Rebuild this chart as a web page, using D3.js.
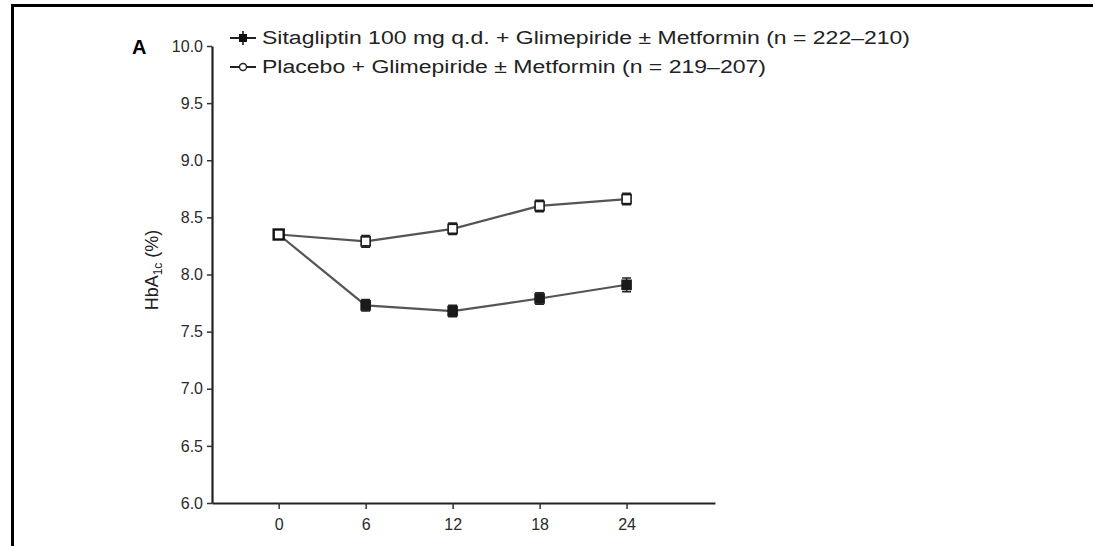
<!DOCTYPE html>
<html>
<head>
<meta charset="utf-8">
<script src="https://cdn.jsdelivr.net/npm/d3@7"></script>
<style>
  body { margin: 0; background: #fff; }
  svg { display: block; }
  .tick text { fill: #2a2a2a; }
</style>
</head>
<body>
<svg id="chart" width="1093" height="546"></svg>
<script>
// weeks and HbA1c means
const weeks = [0, 6, 12, 18, 24];
const sitagliptin = [8.35, 7.73, 7.68, 7.79, 7.91];
const placebo = [8.35, 8.29, 8.4, 8.6, 8.66];
const errSita = [0.03, 0.05, 0.05, 0.05, 0.06];
const errPlacebo = [0.03, 0.05, 0.05, 0.05, 0.05];
const yTicks = [6.0, 6.5, 7.0, 7.5, 8.0, 8.5, 9.0, 9.5, 10.0];
const legendLabels = [
  'Sitagliptin 100 mg q.d. + Glimepiride \u00b1 Metformin (n = 222\u2013210)',
  'Placebo + Glimepiride \u00b1 Metformin (n = 219\u2013207)',
];

const svg = d3.select('#chart');
const font = '"Liberation Sans Narrow", "Liberation Sans", Arial, sans-serif';

// outer frame (runs off the bottom/right edge like the scan)
svg.append('rect')
  .attr('x', 12.5).attr('y', 5.5)
  .attr('width', 1200).attr('height', 700)
  .attr('fill', 'none').attr('stroke', '#000').attr('stroke-width', 3);

const x = d3.scaleLinear().domain([-4.6, 30.1]).range([212, 715]);
const y = d3.scaleLinear().domain([6, 10]).range([503, 46]);

// axes
const yAxis = svg.append('g')
  .attr('transform', 'translate(212,0)')
  .call(d3.axisLeft(y).tickValues(yTicks).tickFormat(d3.format('.1f')).tickSize(5).tickSizeOuter(0));
const xAxis = svg.append('g')
  .attr('transform', 'translate(0,503)')
  .call(d3.axisBottom(x).tickValues(weeks).tickSize(6).tickSizeOuter(0));

[yAxis, xAxis].forEach((g) => {
  g.select('.domain').attr('stroke', '#222').attr('stroke-width', 2.2);
  g.selectAll('.tick line').attr('stroke', '#333').attr('stroke-width', 1.5);
  g.selectAll('.tick text').attr('font-family', font).attr('font-size', 16);
});
yAxis.selectAll('.tick text').attr('x', -9);
xAxis.selectAll('.tick text').attr('y', 16);

// panel letter and y label
svg.append('text')
  .attr('x', 132).attr('y', 54)
  .attr('font-family', '"Liberation Sans", Arial, sans-serif')
  .attr('font-weight', 'bold').attr('font-size', 20)
  .text('A');

const yl = svg.append('text')
  .attr('transform', 'translate(158,270) rotate(-90)')
  .attr('text-anchor', 'middle')
  .attr('font-family', font).attr('font-size', 18).attr('fill', '#222');
yl.append('tspan').text('HbA');
yl.append('tspan').attr('font-size', 12).attr('dy', 4).text('1c');
yl.append('tspan').attr('dy', -4).text(' (%)');

// lines
const line = d3.line().x((d) => x(d[0])).y((d) => y(d[1]));
const series = [
  { vals: placebo, err: errPlacebo, filled: false },
  { vals: sitagliptin, err: errSita, filled: true },
];

series.forEach((s) => {
  const pts = weeks.map((w, i) => [w, s.vals[i]]);
  svg.append('path')
    .datum(pts)
    .attr('d', line)
    .attr('fill', 'none')
    .attr('stroke', '#555')
    .attr('stroke-width', 2.2);
});

series.forEach((s) => {
  const g = svg.append('g');
  weeks.forEach((w, i) => {
    const cx = x(w), cy = y(s.vals[i]);
    const top = y(s.vals[i] + s.err[i]), bot = y(s.vals[i] - s.err[i]);
    g.append('path')
      .attr('d', `M${cx},${top}V${bot}M${cx - 4.5},${top}H${cx + 4.5}M${cx - 4.5},${bot}H${cx + 4.5}`)
      .attr('stroke', '#222').attr('stroke-width', 1.6).attr('fill', 'none');
    g.append('rect')
      .attr('x', cx - 4.5).attr('y', cy - 4.5)
      .attr('width', 9).attr('height', 9)
      .attr('fill', s.filled ? '#1a1a1a' : '#fff')
      .attr('stroke', '#1a1a1a').attr('stroke-width', 1.6);
  });
});

// redraw the open marker at week 0 on top (overlapping points)
svg.append('rect')
  .attr('x', x(0) - 5).attr('y', y(placebo[0]) - 5)
  .attr('width', 10).attr('height', 10)
  .attr('fill', '#fff').attr('stroke', '#111').attr('stroke-width', 2.4);

// legend
const legendY = [38, 67];
const legendWidths = [648, 504];
legendLabels.forEach((label, i) => {
  const ly = legendY[i];
  svg.append('line')
    .attr('x1', 230).attr('x2', 256).attr('y1', ly).attr('y2', ly)
    .attr('stroke', '#222').attr('stroke-width', 2);
  if (i === 0) {
    svg.append('rect').attr('x', 239).attr('y', ly - 4).attr('width', 8).attr('height', 8).attr('fill', '#111');
    svg.append('line').attr('x1', 243).attr('x2', 243).attr('y1', ly - 7).attr('y2', ly + 7)
      .attr('stroke', '#111').attr('stroke-width', 1.5);
  } else {
    svg.append('circle').attr('cx', 243).attr('cy', ly).attr('r', 3.5)
      .attr('fill', '#fff').attr('stroke', '#222').attr('stroke-width', 1.4);
  }
  svg.append('text')
    .attr('x', 262).attr('y', ly + 6)
    .attr('font-family', font).attr('font-size', 18).attr('fill', '#222')
    .attr('textLength', legendWidths[i]).attr('lengthAdjust', 'spacingAndGlyphs')
    .text(label);
});
</script>
</body>
</html>
